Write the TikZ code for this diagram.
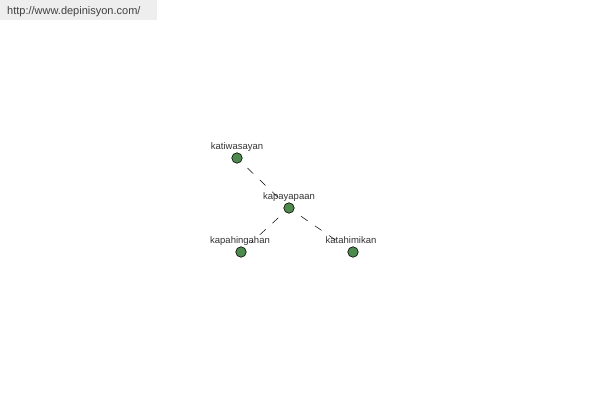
\documentclass[tikz,border=0pt]{standalone}
\usepackage{fontspec}
\setmainfont{Liberation Sans}
\usetikzlibrary{positioning}
\definecolor{dotgreen}{HTML}{4E8A4E}
\definecolor{headgray}{HTML}{EEEEEE}
\tikzset{
  dot/.style={circle, draw=black, fill=dotgreen, line width=0.6pt, minimum size=10.5pt, inner sep=0pt},
  word/.style={inner sep=0pt, text height=7pt, text depth=2pt, font=\fontsize{9.5}{10}\selectfont, text=black!80},
  link/.style={draw=black, line width=0.5pt, dash pattern=on 8pt off 9pt, shorten <=9pt, shorten >=8pt}
}

\begin{document}
\begin{tikzpicture}[x=1pt, y=1pt]
			%%%%% START %%%%%
			
			\useasboundingbox[fill=white] (0, 0) rectangle (600, 400);
			\fill[headgray] (0, 380) rectangle (157, 400);
			\node[word, anchor=west, font=\fontsize{11}{12}\selectfont, text=black!75] (site) at (7, 387.5) {http://www.depinisyon.com/};
			
			\node[dot] (katiwasayan) at (237, 242) {};
			\node[dot] (kapayapaan) at (289, 192) {};
			\node[dot] (kapahingahan) at (241, 148) {};
			\node[dot] (katahimikan) at (353, 148) {};
			
			\node[word, above=1pt of katiwasayan] (katiwasayan-t) {katiwasayan};
			\node[word, above=1pt of kapayapaan] (kapayapaan-t) {kapayapaan};
			\node[word, above=1pt of kapahingahan, xshift=-1pt] (kapahingahan-t) {kapahingahan};
			\node[word, above=1pt of katahimikan, xshift=-2pt] (katahimikan-t) {katahimikan};
			
			\draw[link] (katiwasayan) -- (kapayapaan);
			\draw[link] (kapayapaan) -- (kapahingahan);
			\draw[link] (kapayapaan) -- (katahimikan);
			
			%%%%% END %%%%%
\end{tikzpicture}
\end{document}
